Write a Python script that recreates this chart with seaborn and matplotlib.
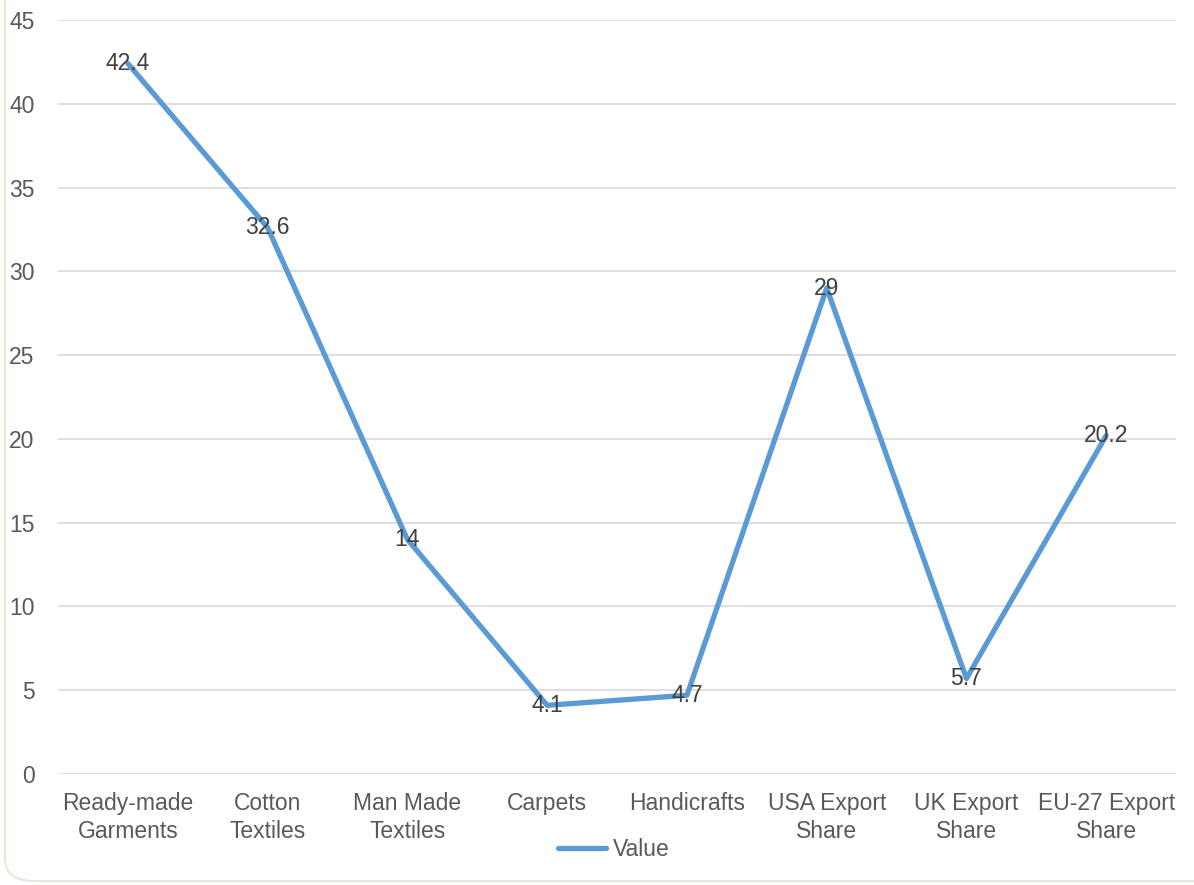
import pandas as pd
import matplotlib
matplotlib.use("Agg")
import matplotlib.pyplot as plt
from matplotlib.patches import FancyBboxPatch
import seaborn as sns

categories = ["Ready-made\nGarments", "Cotton\nTextiles", "Man Made\nTextiles", "Carpets",
              "Handicrafts", "USA Export\nShare", "UK Export\nShare", "EU-27 Export\nShare"]
values = [42.4, 32.6, 14, 4.1, 4.7, 29, 5.7, 20.2]
value_labels = ["42.4", "32.6", "14", "4.1", "4.7", "29", "5.7", "20.2"]
y_ticks = [0, 5, 10, 15, 20, 25, 30, 35, 40, 45]

sns.set_style("white")
plt.rcParams['font.family'] = ['Liberation Sans', 'DejaVu Sans']

df = pd.DataFrame({"category": categories, "value": values})

fig = plt.figure(figsize=(11.94, 8.85), dpi=100)
ax = fig.add_axes([0.0486, 0.1254, 0.9364, 0.852])

# outer chart frame, rounded at bottom-left
frame = FancyBboxPatch((5 / 1194, 4 / 885), 1.2, 1.2,
                       boxstyle="round,pad=0,rounding_size=0.025",
                       transform=fig.transFigure, facecolor="white",
                       edgecolor="#ece5d8", linewidth=1.5, zorder=-10)
fig.patches.append(frame)

sns.lineplot(data=df, x="category", y="value", ax=ax, color="#5b9bd5",
             linewidth=3.8, label="Value", sort=False)

for i, (v, lab) in enumerate(zip(values, value_labels)):
    ax.text(i, v, lab, ha="center", va="center", fontsize=16.5, color="#404040", zorder=5)

ax.set_xlim(-0.5, len(categories) - 0.5)
ax.set_ylim(0, 45)
ax.set_yticks(y_ticks)
ax.yaxis.grid(True, color="#d9d9d9", linewidth=1.2)
ax.set_axisbelow(True)
for s in ax.spines.values():
    s.set_visible(False)
ax.tick_params(axis="both", length=0, labelsize=16.5, labelcolor="#595959")
ax.tick_params(axis="y", pad=17)
ax.tick_params(axis="x", pad=13)
for t in ax.get_xticklabels():
    t.set_linespacing(1.3)
ax.set_xlabel("")
ax.set_ylabel("")

ax.get_legend().remove()
handles, labels = ax.get_legend_handles_labels()
fig.legend(handles, labels, loc="center", bbox_to_anchor=(614 / 1194, 1 - 850 / 885),
           frameon=False, fontsize=16.5, handlelength=2.1, handletextpad=0.3,
           labelcolor="#595959")

fig.savefig("out.png", dpi=100)
